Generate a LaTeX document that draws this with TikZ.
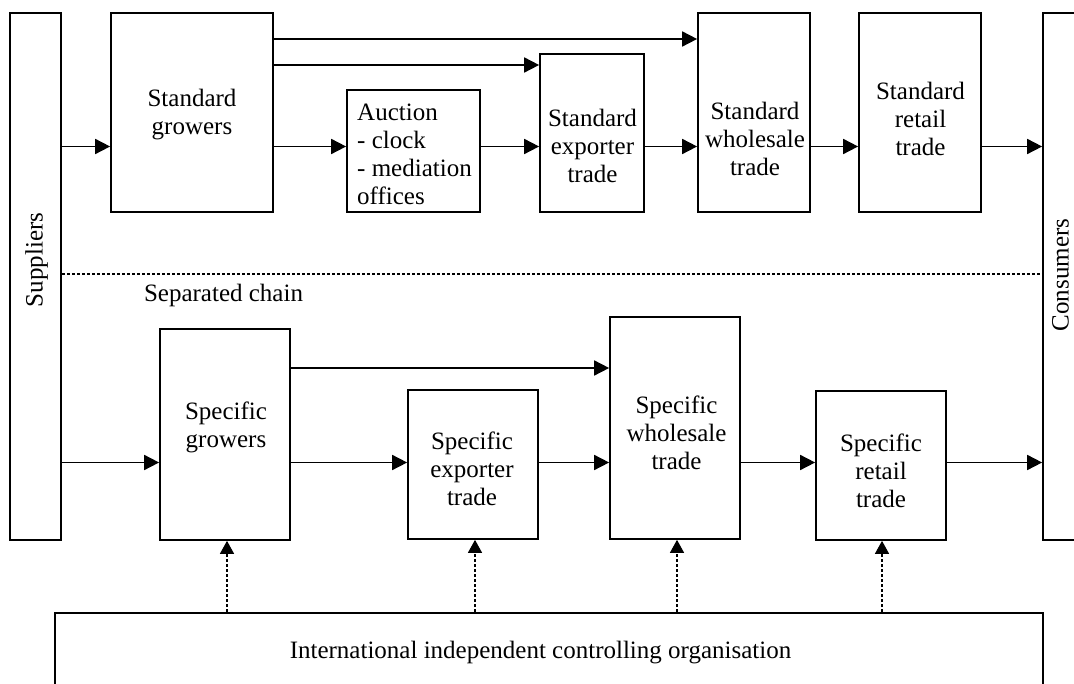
\documentclass[tikz,border=0pt]{standalone}
\usepackage{fontspec}
\setmainfont{Liberation Serif}
\usetikzlibrary{arrows.meta,fit}

\begin{document}
\begin{tikzpicture}[x=1pt,y=-1pt,
  box/.style={draw, line width=1.7pt, inner sep=0pt},
  txt/.style={font=\fontsize{25}{28}\selectfont, align=center, inner sep=0pt},
  arr/.style={line width=1.7pt, -{Triangle[length=15pt,width=15pt]}},
  ctlarr/.style={line width=1.3pt, dash pattern=on 3pt off 2pt, -{Triangle[length=13pt,width=14pt]}},
  sepline/.style={line width=1.3pt, dash pattern=on 3pt off 2pt}]

\useasboundingbox (0,0) rectangle (1074,684);
\clip (0,0) rectangle (1074,684);

% rows used by the horizontal connectors
\coordinate (rowMain) at (0,146.5);
\coordinate (rowTop)  at (0,39);
\coordinate (rowMid)  at (0,65);
\coordinate (rowSep)  at (0,274);
\coordinate (rowLow)  at (0,462.5);
\coordinate (rowSkip) at (0,368);

% side columns
\node[box, fit={(10,13) (61,540)}] (sup) {};
\node[txt, rotate=90] (supt) at (36.5,260) {Suppliers};
\node[box, fit={(1043,13) (1100,540)}] (con) {};
\node[txt, rotate=90] (cont) at (1060.5,275) {Consumers};

% standard chain
\node[box, fit={(111,13) (273,212)}] (sg) {};
\node[txt] (sgt) at (192,115) {Standard\\growers};
\node[box, fit={(347,90) (480,212)}] (auc) {};
\node[txt, align=left, anchor=west] (auct) at (357,154.5) {Auction\\- clock\\- mediation\\offices};
\node[box, fit={(540,54) (644,212)}] (se) {};
\node[txt] (set) at (592.5,146) {Standard\\exporter\\trade};
\node[box, fit={(698,13) (810,212)}] (sw) {};
\node[txt] (swt) at (755,139) {Standard\\wholesale\\trade};
\node[box, fit={(859,13) (981,212)}] (sr) {};
\node[txt] (srt) at (920.5,118.5) {Standard\\retail\\trade};

% separator
\draw[sepline] (sup.east |- rowSep) -- (con.west |- rowSep);
\node[txt] (sepl) at (223.5,295) {Separated chain};

% specific chain
\node[box, fit={(160,329) (290,540)}] (spg) {};
\node[txt] (spgt) at (226,427) {Specific\\growers};
\node[box, fit={(408,390) (538,539)}] (spe) {};
\node[txt] (spet) at (472,468.5) {Specific\\exporter\\trade};
\node[box, fit={(610,317) (740,539)}] (spw) {};
\node[txt] (spwt) at (676.5,432.5) {Specific\\wholesale\\trade};
\node[box, fit={(816,391) (946,540)}] (spr) {};
\node[txt] (sprt) at (881,471) {Specific\\retail\\trade};

% controlling organisation
\node[box, fit={(55,613) (1043,700)}] (ctl) {};
\node[txt] (ctlt) at (540.5,653) {International independent controlling organisation};

% standard flows
\draw[arr] (sup.east |- rowMain) -- (sg.west |- rowMain);
\draw[arr] (sg.east |- rowTop) -- (sw.west |- rowTop);
\draw[arr] (sg.east |- rowMid) -- (se.west |- rowMid);
\draw[arr] (sg.east |- rowMain) -- (auc.west |- rowMain);
\draw[arr] (auc.east |- rowMain) -- (se.west |- rowMain);
\draw[arr] (se.east |- rowMain) -- (sw.west |- rowMain);
\draw[arr] (sw.east |- rowMain) -- (sr.west |- rowMain);
\draw[arr] (sr.east |- rowMain) -- (con.west |- rowMain);

% specific flows
\draw[arr] (sup.east |- rowLow) -- (spg.west |- rowLow);
\draw[arr] (spg.east |- rowSkip) -- (spw.west |- rowSkip);
\draw[arr] (spg.east |- rowLow) -- (spe.west |- rowLow);
\draw[arr] (spe.east |- rowLow) -- (spw.west |- rowLow);
\draw[arr] (spw.east |- rowLow) -- (spr.west |- rowLow);
\draw[arr] (spr.east |- rowLow) -- (con.west |- rowLow);

% control links
\draw[ctlarr] ([xshift=2pt]spg.south |- ctl.north) -- ([xshift=2pt]spg.south);
\draw[ctlarr] ([xshift=2pt]spe.south |- ctl.north) -- ([xshift=2pt]spe.south);
\draw[ctlarr] ([xshift=2pt]spw.south |- ctl.north) -- ([xshift=2pt]spw.south);
\draw[ctlarr] ([xshift=1pt]spr.south |- ctl.north) -- ([xshift=1pt]spr.south);
\end{tikzpicture}
\end{document}
